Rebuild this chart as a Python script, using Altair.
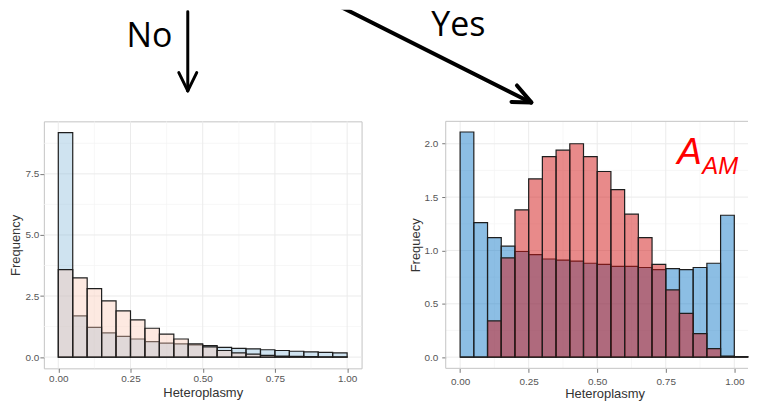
import altair as alt
import pandas as pd

# ---------------- data ----------------
bin_starts = [0.00, 0.05, 0.10, 0.15, 0.20, 0.25, 0.30, 0.35, 0.40, 0.45,
              0.50, 0.55, 0.60, 0.65, 0.70, 0.75, 0.80, 0.85, 0.90, 0.95, 1.00]
bin_ends = [0.05, 0.10, 0.15, 0.20, 0.25, 0.30, 0.35, 0.40, 0.45, 0.50,
            0.55, 0.60, 0.65, 0.70, 0.75, 0.80, 0.85, 0.90, 0.95, 1.00, 1.05]

left_blue = [9.19, 1.69, 1.22, 0.99, 0.85, 0.74, 0.63, 0.57, 0.54, 0.50,
             0.47, 0.40, 0.36, 0.34, 0.30, 0.27, 0.24, 0.21, 0.19, 0.17]
left_peach = [3.58, 3.24, 2.80, 2.30, 1.89, 1.52, 1.18, 0.94, 0.74, 0.54,
              0.42, 0.27, 0.17, 0.12, 0.07, 0.04, 0.03, 0.02, 0.01, 0.01]

right_blue = [2.11, 1.26, 1.12, 1.04, 0.99, 0.96, 0.92, 0.91, 0.90, 0.88,
              0.87, 0.85, 0.85, 0.84, 0.82, 0.83, 0.82, 0.84, 0.88, 1.33, 0.00]
right_red = [0.00, 0.00, 0.34, 0.93, 1.38, 1.67, 1.88, 1.94, 2.00, 1.88,
             1.74, 1.57, 1.34, 1.12, 0.87, 0.63, 0.41, 0.22, 0.08, 0.01, 0.005]

x_ticks = [0.0, 0.25, 0.5, 0.75, 1.0]
x_minor = [0.125, 0.375, 0.625, 0.875]
left_y_ticks = [0.0, 2.5, 5.0, 7.5]
left_y_minor = [1.25, 3.75, 6.25, 8.75]
right_y_ticks = [0.0, 0.5, 1.0, 1.5, 2.0]
right_y_minor = [0.25, 0.75, 1.25, 1.75]

arrow_labels = ["No", "Yes"]
panel_label_main = ["A"]
panel_label_sub = ["AM"]

FONT = "Liberation Sans"
BIG_FONT = "Open Sans"
GRID_MAJOR = "#ebebeb"
GRID_MINOR = "#f4f4f4"
BORDER = "#c4c4c4"

LW, LH = 319, 248
RW, RH = 303.5, 248
OX, OY = 43, 8  # page position of the top annotation strip origin


def axes(ytitle, yticks, yfmt, ylabpad, ytitlepad, xlabpad, xtitlepad):
    xa = alt.Axis(values=x_ticks, format=".2f", title="Heteroplasmy", grid=False,
                  domain=False, ticks=True, tickColor="#777", tickSize=4,
                  labelFont=FONT, labelFontSize=10, labelColor="#555",
                  labelPadding=xlabpad, titleFont=FONT, titleFontSize=13,
                  titleFontWeight="normal", titleColor="#333",
                  titlePadding=xtitlepad)
    ya = alt.Axis(values=yticks, format=yfmt, title=ytitle, grid=False,
                  domain=False, ticks=True, tickColor="#777", tickSize=4,
                  labelFont=FONT, labelFontSize=10, labelColor="#555",
                  labelPadding=ylabpad, titleFont=FONT, titleFontSize=13,
                  titleFontWeight="normal", titleColor="#333",
                  titlePadding=ytitlepad)
    return xa, ya


def panel(blue, other, n, blue_fill, other_fill, blue_op, other_op,
          xdom, ydom, yticks, yminor, ytitle, ylabpad, ytitlepad, xlabpad,
          xtitlepad, xtitle_x=None):
    xs = alt.Scale(domain=xdom, nice=False, zero=False)
    ys = alt.Scale(domain=ydom, nice=False, zero=False)
    xa, ya = axes(ytitle, yticks, ".1f", ylabpad, ytitlepad, xlabpad, xtitlepad)
    if xtitle_x is not None:
        xa["titleX"] = xtitle_x

    df = pd.DataFrame({"start": bin_starts[:n], "end": bin_ends[:n],
                       "blue": blue, "other": other})
    gxM = pd.DataFrame({"g": x_ticks})
    gxm = pd.DataFrame({"g": x_minor})
    gyM = pd.DataFrame({"g": yticks})
    gym = pd.DataFrame({"g": yminor})

    layers = [
        alt.Chart(gxm).mark_rule(color=GRID_MINOR, strokeWidth=0.7).encode(
            x=alt.X("g:Q", scale=xs, axis=xa)),
        alt.Chart(gym).mark_rule(color=GRID_MINOR, strokeWidth=0.7).encode(
            y=alt.Y("g:Q", scale=ys, axis=ya)),
        alt.Chart(gxM).mark_rule(color=GRID_MAJOR, strokeWidth=1).encode(
            x=alt.X("g:Q", scale=xs, axis=xa)),
        alt.Chart(gyM).mark_rule(color=GRID_MAJOR, strokeWidth=1).encode(
            y=alt.Y("g:Q", scale=ys, axis=ya)),
        alt.Chart(df).mark_rect(fill=blue_fill, fillOpacity=blue_op,
                                stroke="#1e1e1e", strokeWidth=1.2).encode(
            x=alt.X("start:Q", scale=xs, axis=xa), x2="end:Q",
            y=alt.Y("blue:Q", scale=ys, axis=ya), y2=alt.datum(0)),
        alt.Chart(df).mark_rect(fill=other_fill, fillOpacity=other_op,
                                stroke="#1e1e1e", strokeWidth=1.2).encode(
            x=alt.X("start:Q", scale=xs, axis=xa), x2="end:Q",
            y=alt.Y("other:Q", scale=ys, axis=ya), y2=alt.datum(0)),
    ]
    return layers


left_layers = panel(left_blue, left_peach, 20, "#87b9da", "#fac8b4", 0.4, 0.4,
                    [-0.05, 1.05], [-0.46, 9.65], left_y_ticks, left_y_minor,
                    "Frequency", 1, 3, 1, 3)
left = alt.layer(*left_layers).properties(
    width=LW, height=LH,
    view=alt.ViewBackground(stroke=BORDER, strokeWidth=1))

right_layers = panel(right_blue, right_red, 21, "#197dc9", "#d11515", 0.5, 0.5,
                     [-0.0525, 1.05], [-0.105, 2.21], right_y_ticks, right_y_minor,
                     "Frequecy", 4, 1, 4, 1, xtitle_x=159.5)

one = pd.DataFrame({"k": [0]})
border_layers = [
    alt.Chart(one).mark_rule(color=BORDER, strokeWidth=1).encode(
        x=alt.value(0), x2=alt.value(RW), y=alt.value(0)),
    alt.Chart(one).mark_rule(color=BORDER, strokeWidth=1).encode(
        x=alt.value(0), x2=alt.value(RW), y=alt.value(RH)),
    alt.Chart(one).mark_rule(color=BORDER, strokeWidth=1).encode(
        x=alt.value(0), y=alt.value(0), y2=alt.value(RH)),
]
label_layers = [
    alt.Chart(pd.DataFrame({"t": panel_label_main})).mark_text(
        align="left", baseline="alphabetic", font=FONT, fontStyle="italic",
        fontSize=37, color="#ff0000").encode(
        x=alt.value(679 - 446.5), y=alt.value(163.5 - 121), text="t:N"),
    alt.Chart(pd.DataFrame({"t": panel_label_sub})).mark_text(
        align="left", baseline="alphabetic", font=FONT, fontStyle="italic",
        fontSize=24, color="#ff0000").encode(
        x=alt.value(704 - 446.5), y=alt.value(173.5 - 121), text="t:N"),
]
right = alt.layer(*right_layers, *border_layers, *label_layers).properties(
    width=RW, height=RH,
    view=alt.ViewBackground(stroke="transparent"))


# ---------------- top annotation strip ----------------
def seg(x1, y1, x2, y2, w):
    return alt.Chart(one).mark_rule(color="black", strokeWidth=w,
                                    strokeCap="round", clip=True).encode(
        x=alt.value(x1 - OX), y=alt.value(y1 - OY),
        x2=alt.value(x2 - OX), y2=alt.value(y2 - OY))


top_layers = [
    alt.Chart(pd.DataFrame({"t": [arrow_labels[0]]})).mark_text(
        align="left", baseline="alphabetic", font=BIG_FONT, fontSize=34,
        color="black", clip=True).encode(
        x=alt.value(126 - OX), y=alt.value(45.5 - OY), text="t:N"),
    alt.Chart(pd.DataFrame({"t": [arrow_labels[1]]})).mark_text(
        align="left", baseline="alphabetic", font=BIG_FONT, fontSize=34,
        color="black", clip=True).encode(
        x=alt.value(432 - OX), y=alt.value(34 - OY), text="t:N"),
    seg(187.5, 10, 187.5, 89, 3),
    seg(178.5, 71, 187.5, 89.5, 3),
    seg(196.5, 71, 187.5, 89.5, 3),
    seg(331, 0, 532, 101, 4),
    seg(518, 84, 532.5, 101, 4),
    seg(512.5, 100.5, 532.5, 101, 4),
]
top = alt.layer(*top_layers).properties(
    width=LW + 84.5 + RW, height=112,
    view=alt.ViewBackground(stroke="transparent"))

bottom = alt.hconcat(left, right, spacing=84.5, bounds="flush")
chart = alt.vconcat(top, bottom, spacing=0, bounds="flush").properties(
    padding={"left": 0, "top": 0, "right": 0, "bottom": 0},
    background="white")

chart.save("out.html", embed_options={"renderer": "svg", "actions": False})
